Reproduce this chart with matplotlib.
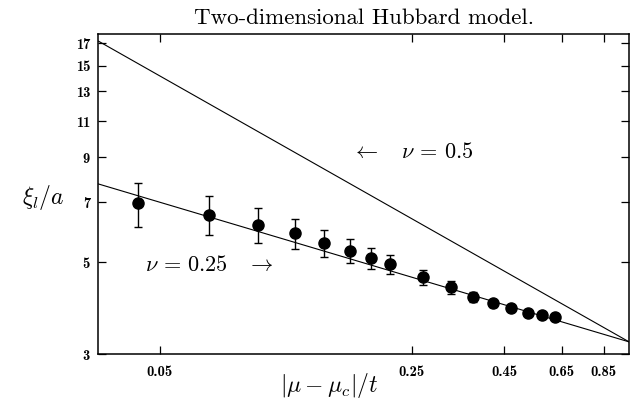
import matplotlib
matplotlib.use("Agg")
import matplotlib.pyplot as plt
from matplotlib.ticker import FixedLocator, FixedFormatter, NullLocator

plt.rcParams['mathtext.fontset'] = 'cm'

# data
mu_dist = [0.0435, 0.0684, 0.0936, 0.1186, 0.143, 0.168, 0.193, 0.218,
           0.269, 0.3205, 0.369, 0.419, 0.472, 0.523, 0.575, 0.623]
xi = [6.96, 6.53, 6.18, 5.88, 5.58, 5.34, 5.13, 4.95,
      4.60, 4.35, 4.13, 3.98, 3.87, 3.77, 3.72, 3.68]
xi_err = [0.85, 0.70, 0.60, 0.50, 0.43, 0.36, 0.30, 0.25,
          0.19, 0.16, 0.12, 0.08, 0.06, 0.05, 0.04, 0.04]

# power-law lines (end points)
line_x = [0.0338, 1.0]
nu05_y = [17.2, 3.21]
nu025_y = [7.75, 3.21]

xticks = [0.05, 0.25, 0.45, 0.65, 0.85]
xtick_labels = ['0.05', '0.25', '0.45', '0.65', '0.85']
yticks = [3, 5, 7, 9, 11, 13, 15, 17]

fig = plt.figure(figsize=(6.31, 4.0), dpi=100)
ax = fig.add_axes([0.156, 0.115, 0.841, 0.80])

ax.plot(line_x, nu05_y, color='black', lw=0.8)
ax.plot(line_x, nu025_y, color='black', lw=0.8)
ax.errorbar(mu_dist, xi, yerr=xi_err, fmt='o', color='black', ms=8,
            elinewidth=1.0, capsize=3, capthick=1.0)

ax.set_xscale('log')
ax.set_yscale('log')
ax.set_xlim(0.0338, 1.0)
ax.set_ylim(3, 17.9)

ax.xaxis.set_major_locator(FixedLocator(xticks))
ax.xaxis.set_major_formatter(FixedFormatter(xtick_labels))
ax.xaxis.set_minor_locator(NullLocator())
ax.yaxis.set_major_locator(FixedLocator(yticks))
ax.yaxis.set_major_formatter(FixedFormatter([str(v) for v in yticks]))
ax.yaxis.set_minor_locator(NullLocator())

ax.tick_params(direction='in', length=6, width=0.9, top=True, right=True,
               labelsize=10.5)
ax.tick_params(axis='x', pad=8)
ax.tick_params(axis='y', pad=6)
for lbl in ax.get_xticklabels() + ax.get_yticklabels():
    lbl.set_fontfamily('cmb10')

for sp in ax.spines.values():
    sp.set_linewidth(1.1)

ax.set_title('Two-dimensional Hubbard model.', fontfamily='cmr10',
             fontsize=16.5, pad=7)
ax.set_xlabel(r'$|\mu-\mu_c|/t$', fontsize=17, va='center')
ax.xaxis.set_label_coords(0.434, -0.1)
ax.set_ylabel(r'$\xi_l/a$', fontsize=17, rotation=0, va='center')
ax.yaxis.set_label_coords(-0.105, 0.49)

ax.text(0.478, 0.631, r'$\leftarrow\quad\nu\,=\,0.5$', transform=ax.transAxes,
        fontsize=16, va='center', ha='left')
ax.text(0.087, 0.278, r'$\nu\,=\,0.25\quad\rightarrow$', transform=ax.transAxes,
        fontsize=16, va='center', ha='left')

fig.savefig('out.png', dpi=100)
